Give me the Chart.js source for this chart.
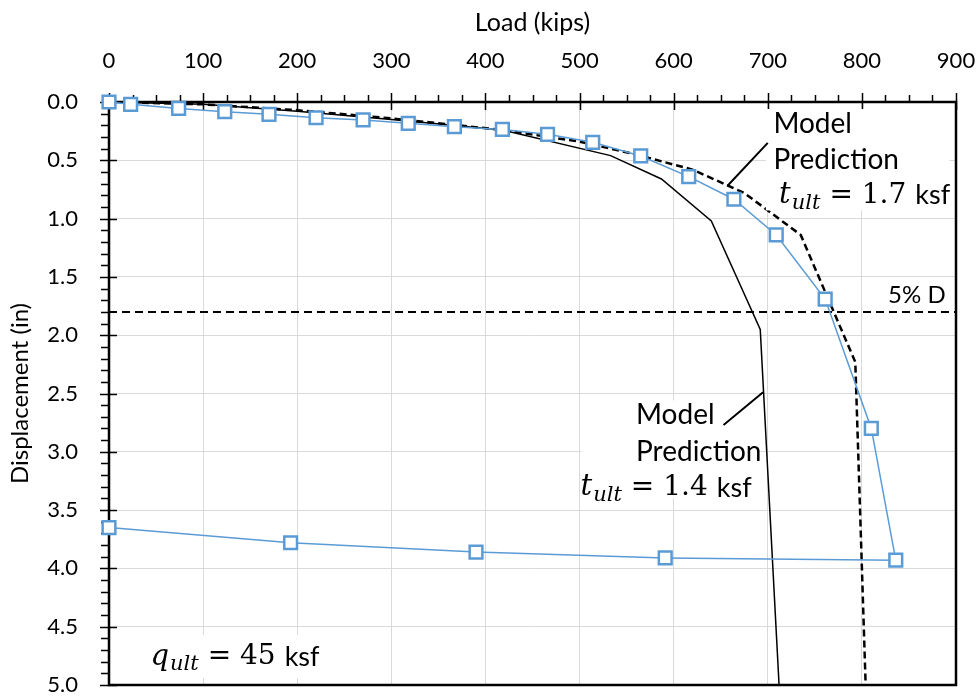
<!DOCTYPE html>
<html>
<head>
<meta charset="utf-8">
<script src="https://cdn.jsdelivr.net/npm/chart.js@4.4.1/dist/chart.umd.min.js"></script>
<style>
  html, body { margin: 0; padding: 0; background: #fff; }
  #wrap { width: 978px; height: 698px; }
</style>
</head>
<body>
<div id="wrap"><canvas id="loadChart"></canvas></div>
<script>
// measured load test (blue squares)
const measLoad = [0, 23, 74, 123, 170, 220, 270, 318, 367, 418, 466, 514, 565, 616, 664, 709, 761, 810, 836, 591, 390, 193, 0];
const measDisp = [0, 0.02, 0.055, 0.083, 0.106, 0.135, 0.154, 0.183, 0.212, 0.235, 0.277, 0.346, 0.463, 0.64, 0.834, 1.14, 1.69, 2.80, 3.93, 3.91, 3.86, 3.78, 3.65];

// model prediction, t_ult = 1.4 ksf (solid)
const model14Load = [0, 100, 200, 300, 418, 533, 587, 640, 692, 712];
const model14Disp = [0, 0.02, 0.08, 0.15, 0.24, 0.46, 0.66, 1.02, 1.95, 5.0];

// model prediction, t_ult = 1.7 ksf (dashed)
const model17Load = [0, 100, 200, 300, 418, 500, 560, 620, 675, 735, 793, 804];
const model17Disp = [0, 0.02, 0.07, 0.14, 0.24, 0.34, 0.45, 0.58, 0.78, 1.14, 2.23, 5.0];

// 5% of diameter limit
const limitLoad = [0, 900];
const limitDisp = [1.8, 1.8];

const xTicks = [0, 100, 200, 300, 400, 500, 600, 700, 800, 900];
const yTicks = [0, 0.5, 1, 1.5, 2, 2.5, 3, 3.5, 4, 4.5, 5];

const FONT = "Lato, 'Open Sans', sans-serif";
const SERIF = "'DejaVu Serif', 'Liberation Serif', serif";

function pts(xs, ys) {
  return xs.map((x, i) => ({ x: x, y: ys[i] }));
}

// frame + tick marks like the excel original
const frameTicks = {
  id: 'frameTicks',
  beforeDatasetsDraw(chart) {
    const { ctx, chartArea: a, scales: { x, y } } = chart;
    ctx.save();
    ctx.strokeStyle = '#000';
    ctx.lineWidth = 1.5;
    ctx.beginPath();
    for (let v = 0; v <= 900; v += 25) {
      const px = Math.round(x.getPixelForValue(v)) + 0.5;
      if (v % 100 === 0) {
        ctx.moveTo(px, a.top - 9); ctx.lineTo(px, a.top + 8);
      } else {
        ctx.moveTo(px, a.top - 7); ctx.lineTo(px, a.top);
      }
    }
    for (let i = 0; i <= 50; i++) {
      const py = Math.round(y.getPixelForValue(i / 10)) + 0.5;
      if (i % 5 === 0) {
        ctx.moveTo(a.left - 9, py); ctx.lineTo(a.left + 8, py);
      } else {
        ctx.moveTo(a.left - 8, py); ctx.lineTo(a.left, py);
      }
    }
    ctx.stroke();
    ctx.lineWidth = 2.5;
    ctx.strokeRect(a.left, a.top, a.right - a.left, a.bottom - a.top);
    ctx.restore();
  }
};

function mathLabel(ctx, x, y, sym, sub, rest) {
  ctx.font = 'italic 29px ' + SERIF;
  ctx.fillText(sym, x, y);
  x += ctx.measureText(sym).width + 1;
  ctx.font = 'italic 21px ' + SERIF;
  ctx.fillText(sub, x, y + 8);
  x += ctx.measureText(sub).width + 9;
  ctx.font = '28px ' + SERIF;
  ctx.fillText(rest, x, y);
  x += ctx.measureText(rest).width + 9;
  ctx.font = '27px ' + FONT;
  ctx.fillText('ksf', x, y);
}

// "Prediction" in two pieces so Lato does not use its "ti" ligature
function prediction(ctx, x, y) {
  ctx.fillText('Predic', x, y);
  ctx.fillText('tion', x + ctx.measureText('Predic').width, y);
}

const notes = {
  id: 'notes',
  afterDatasetsDraw(chart) {
    const { ctx, scales: { x, y } } = chart;
    const X = v => x.getPixelForValue(v);
    const Y = v => y.getPixelForValue(v);
    ctx.save();
    // white text boxes, as in the excel figure
    ctx.fillStyle = '#fff';
    ctx.fillRect(X(698), Y(0.06), X(893) - X(698), Y(0.93) - Y(0.06));
    ctx.fillRect(X(502), Y(2.56), X(691) - X(502), Y(3.40) - Y(2.56));
    ctx.fillRect(X(34), Y(4.57), X(214) - X(34), Y(4.94) - Y(4.57));

    ctx.fillStyle = '#000';
    ctx.textBaseline = 'middle';
    ctx.textAlign = 'left';
    ctx.font = '28px ' + FONT;
    ctx.fillText('Model', X(706), Y(0.19));
    prediction(ctx, X(706), Y(0.50));
    ctx.fillText('Model', X(560), Y(2.68));
    prediction(ctx, X(560), Y(3.0));
    mathLabel(ctx, X(712), Y(0.80), 't', 'ult', '= 1.7');
    mathLabel(ctx, X(501), Y(3.31), 't', 'ult', '= 1.4');
    mathLabel(ctx, X(44), Y(4.76), 'q', 'ult', '= 45');
    ctx.font = '24px ' + FONT;
    ctx.textAlign = 'right';
    ctx.fillText('5% D', X(889), Y(1.66));

    ctx.strokeStyle = '#000';
    ctx.lineWidth = 2;
    ctx.beginPath();
    ctx.moveTo(X(657), Y(0.72)); ctx.lineTo(X(700), Y(0.35));
    ctx.moveTo(X(653), Y(2.77)); ctx.lineTo(X(695), Y(2.49));
    ctx.stroke();
    ctx.restore();
  }
};

new Chart(document.getElementById('loadChart'), {
  type: 'scatter',
  data: {
    datasets: [
      {
        label: 'Measured',
        data: pts(measLoad, measDisp),
        showLine: true,
        borderColor: '#5b9bd5',
        borderWidth: 1.5,
        pointStyle: 'rect',
        pointRadius: 9,
        pointBorderWidth: 2.5,
        pointBorderColor: '#5b9bd5',
        pointBackgroundColor: '#fff',
        clip: false,
        order: 0
      },
      {
        label: 'Model 1.4',
        data: pts(model14Load, model14Disp),
        showLine: true,
        borderColor: '#000',
        borderWidth: 1.5,
        pointRadius: 0,
        order: 2
      },
      {
        label: 'Model 1.7',
        data: pts(model17Load, model17Disp),
        showLine: true,
        borderColor: '#000',
        borderWidth: 2.5,
        borderDash: [7, 4],
        pointRadius: 0,
        order: 1
      },
      {
        label: '5% D',
        data: pts(limitLoad, limitDisp),
        showLine: true,
        borderColor: '#000',
        borderWidth: 2,
        borderDash: [8, 5],
        pointRadius: 0,
        order: 3
      }
    ]
  },
  options: {
    responsive: true,
    maintainAspectRatio: false,
    animation: false,
    layout: { padding: { left: 0, right: 22, top: 0, bottom: 13 } },
    plugins: {
      legend: { display: false },
      tooltip: { enabled: false }
    },
    scales: {
      x: {
        type: 'linear',
        position: 'top',
        min: 0,
        max: 900,
        afterBuildTicks: s => { s.ticks = xTicks.map(v => ({ value: v })); },
        afterFit: s => { s.height = 102; s.paddingLeft = 0; s.paddingRight = 0; },
        ticks: {
          color: '#000',
          padding: 28,
          maxRotation: 0,
          font: { family: FONT, size: 22 }
        },
        grid: { color: '#d9d9d9', lineWidth: 1, drawTicks: false },
        border: { display: false },
        title: {
          display: true,
          text: 'Load (kips)',
          color: '#000',
          padding: { top: 8, bottom: 0 },
          font: { family: FONT, size: 25 }
        }
      },
      y: {
        type: 'linear',
        reverse: true,
        min: 0,
        max: 5,
        afterBuildTicks: s => { s.ticks = yTicks.map(v => ({ value: v })); },
        afterFit: s => { s.width = 109; s.paddingTop = 0; s.paddingBottom = 0; },
        ticks: {
          color: '#000',
          padding: 31,
          font: { family: FONT, size: 22 },
          callback: v => Number(v).toFixed(1)
        },
        grid: { color: '#d9d9d9', lineWidth: 1, drawTicks: false },
        border: { display: false },
        title: {
          display: true,
          text: 'Displacement (in)',
          color: '#000',
          padding: { top: 6, bottom: 0 },
          font: { family: FONT, size: 24 }
        }
      }
    }
  },
  plugins: [frameTicks, notes]
});
</script>
</body>
</html>
